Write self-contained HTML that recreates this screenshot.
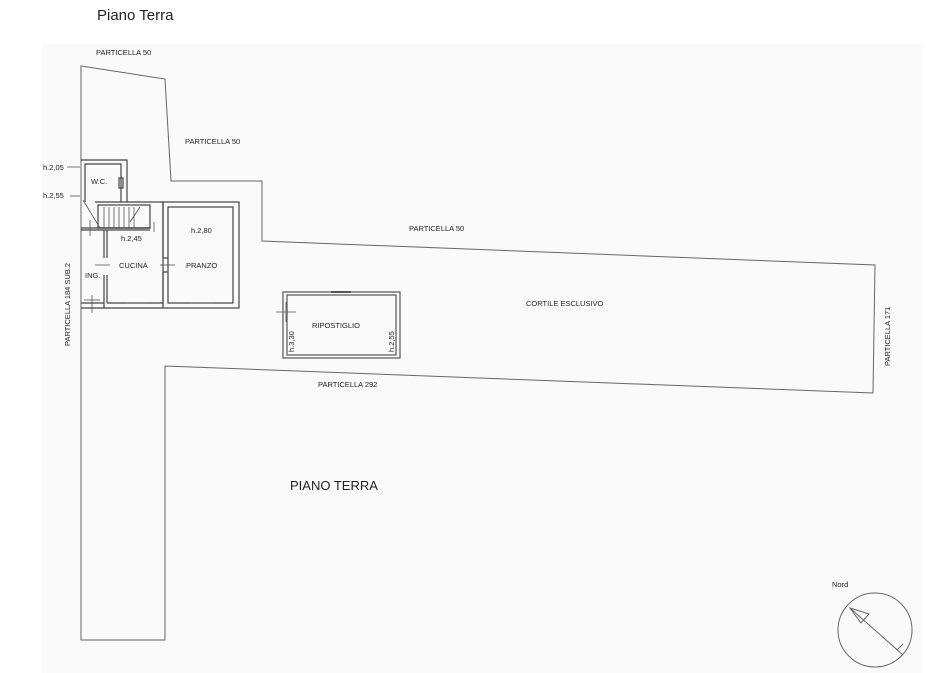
<!DOCTYPE html>
<html><head><meta charset="utf-8"><style>
body{margin:0;background:#fff;}
svg{display:block;font-family:"Liberation Sans",sans-serif;}
</style></head><body>
<svg width="926" height="673" viewBox="0 0 926 673" xmlns="http://www.w3.org/2000/svg">
<rect x="0" y="0" width="926" height="673" fill="#fff"/>
<rect x="42" y="44" width="880" height="629" fill="#fafafa"/>
<text x="97" y="20" font-size="15" fill="#222">Piano Terra</text>
<g fill="none" stroke="#666" stroke-width="1">
<polygon points="81,66 165,79 171,181 262,181 262,241 875,265 873,393 165,366 165,640 81,640"/>
</g>
<g fill="none" stroke="#444" stroke-width="1.2">
<!-- WC -->
<polyline points="81,160 127,160 127,202"/>
<polyline points="85,202 85,164 121,164 121,202"/>
<rect x="119" y="178" width="4" height="10"/>
<!-- main block outer -->
<polyline points="95,202 163,202 163,258"/>
<rect x="163" y="202" width="76" height="106"/>
<rect x="168" y="207" width="65" height="96"/>
<polyline points="163,272 163,303"/>
<line x1="163" y1="258" x2="168" y2="258"/>
<line x1="163" y1="272" x2="168" y2="272"/>
<line x1="81" y1="308" x2="163" y2="308"/>
<line x1="107" y1="303" x2="163" y2="303"/>
<line x1="81" y1="303" x2="104" y2="303"/>
<!-- kitchen left wall -->
<polyline points="104,230 104,258"/>
<polyline points="107,230 107,258"/>
<polyline points="104,275 104,308"/>
<polyline points="107,275 107,303"/>
<!-- stairs -->
<rect x="98" y="205" width="52" height="23"/>
<line x1="98" y1="228" x2="150" y2="228"/>
<line x1="81" y1="228" x2="150" y2="228"/>
<line x1="81" y1="230" x2="150" y2="230"/>
</g>
<g stroke="#555" stroke-width="0.8">
<line x1="104" y1="207" x2="104" y2="228"/><line x1="109" y1="207" x2="109" y2="228"/>
<line x1="114" y1="207" x2="114" y2="228"/><line x1="119" y1="207" x2="119" y2="228"/>
<line x1="124" y1="207" x2="124" y2="228"/><line x1="129" y1="207" x2="129" y2="228"/>
<line x1="134" y1="207" x2="134" y2="228"/>
<line x1="83" y1="200" x2="100" y2="228"/>
<line x1="130" y1="222" x2="140" y2="207"/>
<line x1="90" y1="220" x2="90" y2="236"/>
<line x1="154" y1="222" x2="154" y2="232"/>
<line x1="152" y1="202" x2="160" y2="202"/>
<line x1="95" y1="265" x2="110" y2="265"/><line x1="160" y1="265" x2="175" y2="265"/>
<line x1="84" y1="300" x2="100" y2="300"/><line x1="92" y1="295" x2="92" y2="313"/>
<line x1="125" y1="303" x2="145" y2="303"/><line x1="190" y1="303" x2="215" y2="303"/>
<line x1="67" y1="167" x2="80" y2="167"/><line x1="70" y1="196" x2="80" y2="196"/>
</g>
<g fill="none" stroke="#555" stroke-width="1.2">
<rect x="283" y="292" width="117" height="66"/>
<rect x="287" y="295" width="109" height="60"/>
<line x1="331" y1="292" x2="351" y2="292" stroke-width="2"/>
<line x1="276" y1="312" x2="296" y2="312" stroke-width="0.8"/>
<line x1="286" y1="302" x2="286" y2="322" stroke-width="0.8"/>
</g>
<g font-size="7.5" fill="#222">
<text x="96" y="55">PARTICELLA 50</text>
<text x="185" y="144">PARTICELLA 50</text>
<text x="409" y="231">PARTICELLA 50</text>
<text x="526" y="306">CORTILE ESCLUSIVO</text>
<text x="318" y="387">PARTICELLA 292</text>
<text x="43" y="170">h.2,05</text>
<text x="43" y="198">h.2,55</text>
<text x="91" y="184">W.C.</text>
<text x="121" y="241">h.2,45</text>
<text x="191" y="233">h.2,80</text>
<text x="119" y="268">CUCINA</text>
<text x="186" y="268">PRANZO</text>
<text x="85" y="278">ING.</text>
<text x="312" y="328">RIPOSTIGLIO</text>
<text x="832" y="587">Nord</text>
<text transform="translate(70,346) rotate(-90)">PARTICELLA 184 SUB.2</text>
<text transform="translate(890,366) rotate(-90)">PARTICELLA 171</text>
<text transform="translate(294,352) rotate(-90)">h.3,30</text>
<text transform="translate(394,352) rotate(-90)">h.2,55</text>
</g>
<text x="290" y="490" font-size="13" fill="#222">PIANO TERRA</text>
<g fill="none" stroke="#666" stroke-width="1">
<circle cx="875" cy="630" r="37"/>
<line x1="850" y1="608" x2="903" y2="655"/>
<polygon points="850,608 869,614 861,623"/>
<line x1="897" y1="650" x2="903" y2="644"/>
</g>
</svg>
</body></html>
